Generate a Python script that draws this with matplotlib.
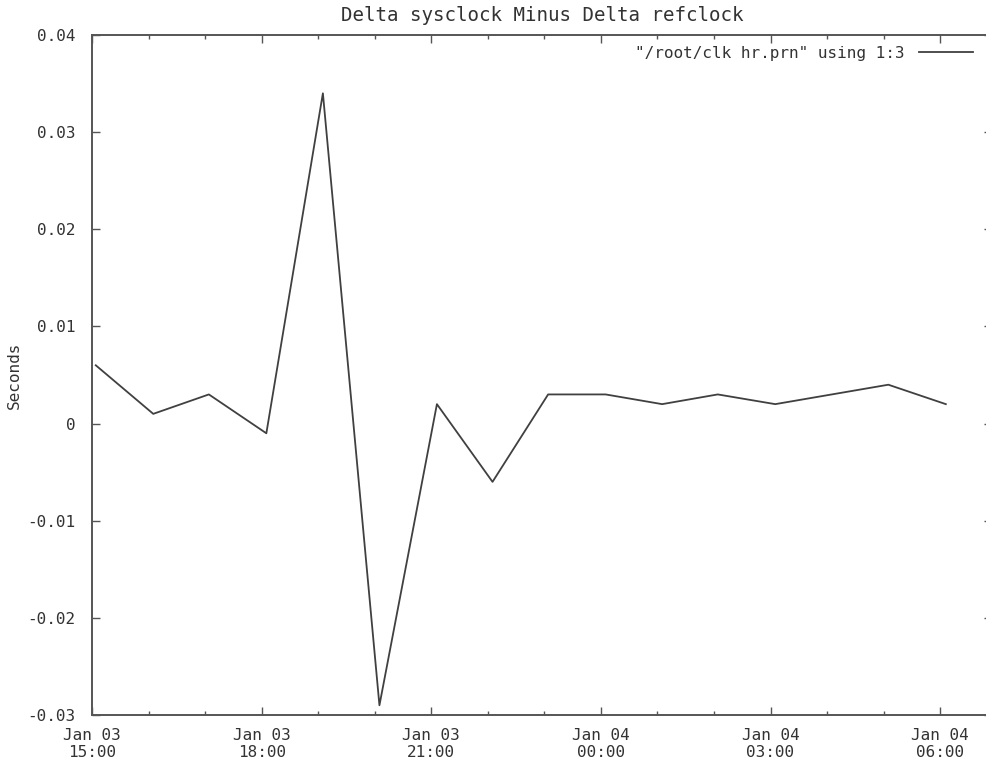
import matplotlib
matplotlib.use('Agg')
import matplotlib.pyplot as plt
import matplotlib.dates as mdates
from datetime import datetime

times = ['2024-01-03 15:04', '2024-01-03 16:05', '2024-01-03 17:04', '2024-01-03 18:05',
         '2024-01-03 19:05', '2024-01-03 20:05', '2024-01-03 21:06', '2024-01-03 22:05',
         '2024-01-03 23:04', '2024-01-04 00:05', '2024-01-04 01:05', '2024-01-04 02:04',
         '2024-01-04 03:05', '2024-01-04 04:05', '2024-01-04 05:05', '2024-01-04 06:06']
delta = [0.006, 0.001, 0.003, -0.001, 0.034, -0.029, 0.002, -0.006,
         0.003, 0.003, 0.002, 0.003, 0.002, 0.003, 0.004, 0.002]
yticks = [-0.03, -0.02, -0.01, 0, 0.01, 0.02, 0.03, 0.04]
ylabels = ['-0.03', '-0.02', '-0.01', '0', '0.01', '0.02', '0.03', '0.04']

x = [datetime.strptime(t, '%Y-%m-%d %H:%M') for t in times]

plt.rcParams['font.family'] = 'DejaVu Sans Mono'
plt.rcParams['font.size'] = 11.5
txt = '#333333'

fig = plt.figure(figsize=(9.87, 7.61), dpi=100)
# the right edge of the plot frame sits just past the picture edge, as in the reference
ax = fig.add_axes([92/987, 1-715/761, (992-92)/987, (715-35)/761])
ax.plot(x, delta, color='#404040', lw=1.3, label='"/root/clk hr.prn" using 1:3')

ax.set_xlim(datetime(2024, 1, 3, 15, 0), datetime(2024, 1, 4, 6, 55))
ax.set_ylim(-0.03, 0.04)
ax.set_yticks(yticks)
ax.set_yticklabels(ylabels)
ax.xaxis.set_major_locator(mdates.HourLocator(byhour=[0, 3, 6, 9, 12, 15, 18, 21]))
ax.xaxis.set_minor_locator(mdates.HourLocator())
ax.xaxis.set_major_formatter(mdates.DateFormatter('%b %d\n%H:%M'))
ax.tick_params(which='major', direction='in', length=6, width=1, top=True, right=True,
               colors='#555555', labelcolor=txt, pad=12)
ax.tick_params(which='minor', direction='in', length=3, width=1, top=True, right=True,
               colors='#555555')
ax.tick_params(axis='x', which='major', pad=9)
for s in ax.spines.values():
    s.set_color('#555555')
    s.set_linewidth(1.4)

ax.set_title('Delta sysclock Minus Delta refclock', color=txt, pad=10)
ax.set_ylabel('Seconds', color=txt, labelpad=4)
ax.legend(loc='upper right', bbox_to_anchor=(0.995, 1.005), frameon=False,
          markerfirst=False, handlelength=3.4, handletextpad=0.9, labelcolor=txt)

fig.savefig('out.png', dpi=100)
